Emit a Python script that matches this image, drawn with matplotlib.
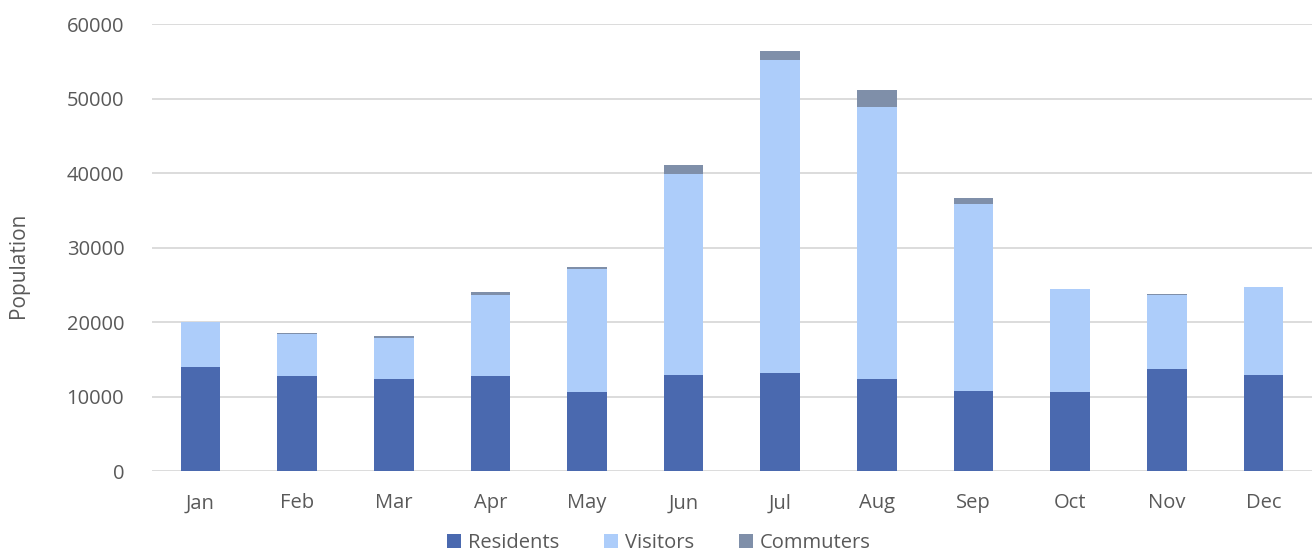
import matplotlib
matplotlib.use("Agg")
import matplotlib.pyplot as plt
import numpy as np

months = ["Jan", "Feb", "Mar", "Apr", "May", "Jun",
          "Jul", "Aug", "Sep", "Oct", "Nov", "Dec"]
residents = [14000, 12700, 12400, 12750, 10660, 12940,
             13110, 12300, 10790, 10560, 13650, 12940]
visitors = [5960, 5750, 5500, 10930, 16510, 26980,
            42020, 36560, 25010, 13830, 9970, 11760]
commuters = [0, 100, 180, 350, 170, 1110,
             1210, 2330, 900, 100, 190, 0]

C_RES = "#4A69AF"
C_VIS = "#ADCDFA"
C_COM = "#7F8FA9"
TXT = "#595959"
GRID = "#D9D9D9"

plt.rcParams["font.family"] = ["Open Sans", "DejaVu Sans"]

fig = plt.figure(figsize=(13.12, 5.52), dpi=100, facecolor="white")
ax = fig.add_axes([0.1159, 0.1467, 0.884, 0.8098])

x = np.arange(len(months))
res = np.array(residents)
vis = np.array(visitors)
com = np.array(commuters)
w = 0.41
ax.bar(x, res, w, color=C_RES, label="Residents", zorder=3)
ax.bar(x, vis, w, bottom=res, color=C_VIS, label="Visitors", zorder=3)
ax.bar(x, com, w, bottom=res + vis, color=C_COM, label="Commuters", zorder=3)

ax.set_xlim(-0.5, len(months) - 0.5)
ax.set_ylim(0, 60000)
ax.set_yticks(range(0, 60001, 10000))
ax.set_xticks(x)
ax.set_xticklabels(months)
ax.yaxis.grid(True, color=GRID, lw=1.3, zorder=0)
ax.set_axisbelow(True)
for s in ax.spines.values():
    s.set_visible(False)
ax.tick_params(axis="both", length=0, colors=TXT, labelsize=14.5)
ax.tick_params(axis="y", pad=20)
ax.tick_params(axis="x", pad=16)
ax.set_ylabel("Population", color=TXT, fontsize=15)
ax.yaxis.set_label_coords(-0.106, 0.46)

ax.legend(loc="center", bbox_to_anchor=(0.437, -0.162), ncol=3,
          frameon=False, fontsize=14.5, labelcolor=TXT, handlelength=0.7,
          handleheight=0.7, handletextpad=0.35, columnspacing=2.2,
          borderpad=0)

fig.savefig("out.png", dpi=100, facecolor="white")
